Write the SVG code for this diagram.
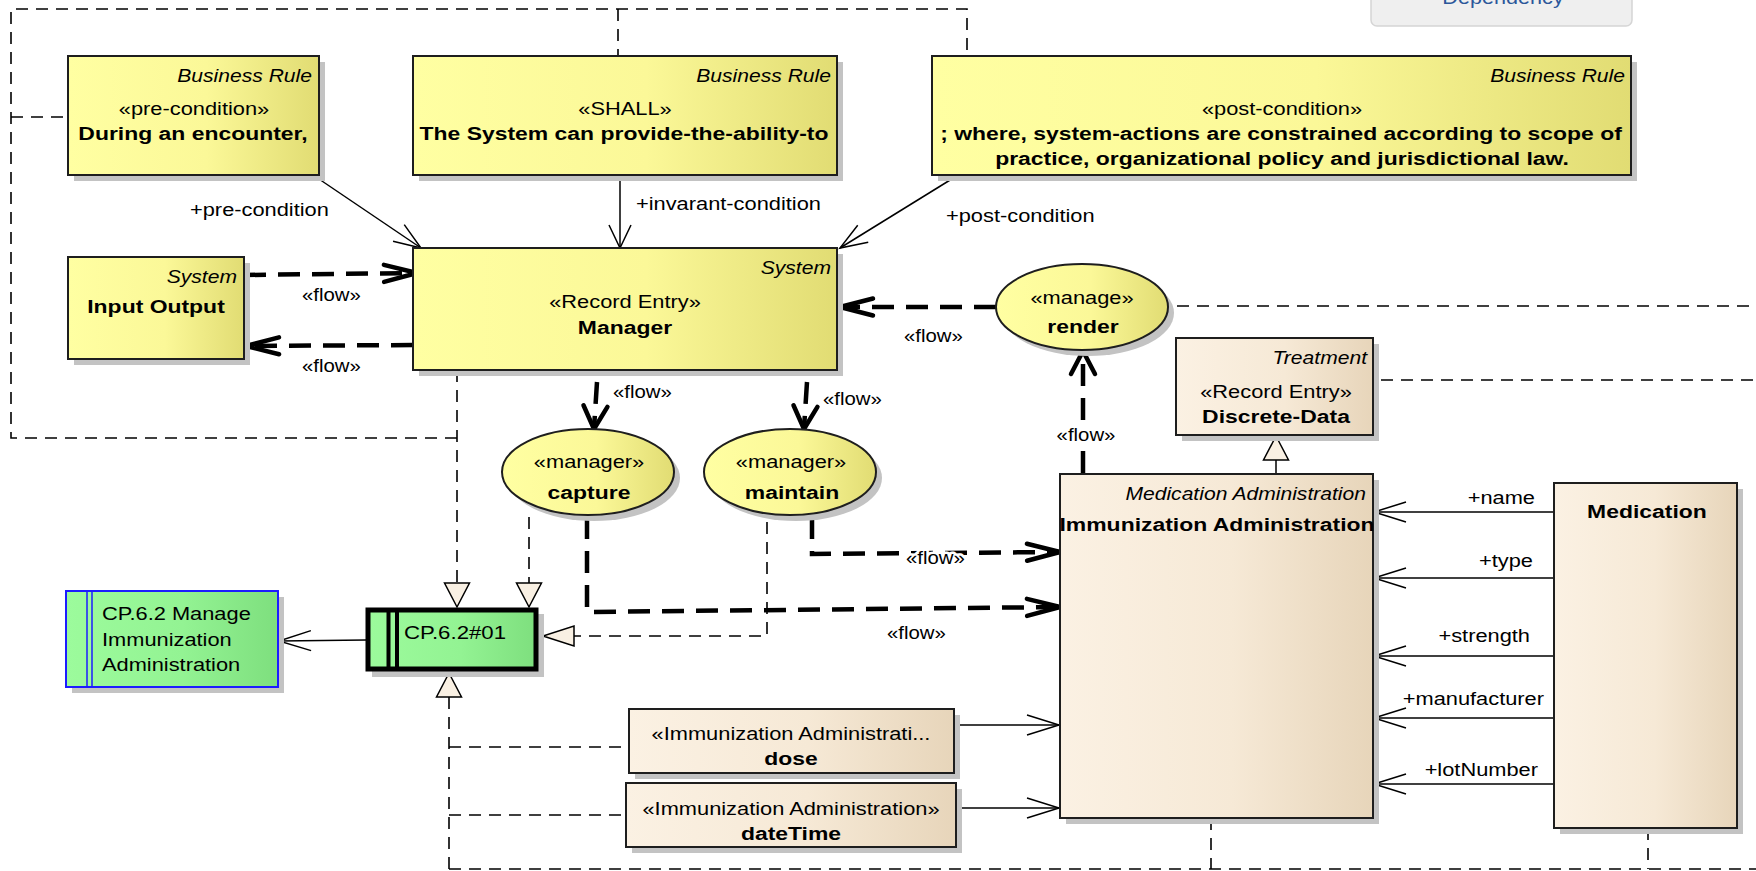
<svg xmlns="http://www.w3.org/2000/svg" width="1756" height="871" viewBox="0 0 1756 871">
  <defs>
    <linearGradient id="gYellow" x1="0" y1="0" x2="1" y2="0">
      <stop offset="0" stop-color="#ffffa2"/>
      <stop offset="0.55" stop-color="#fbf898"/>
      <stop offset="1" stop-color="#e1dc73"/>
    </linearGradient>
    <linearGradient id="gCream" x1="0" y1="0" x2="1" y2="0">
      <stop offset="0" stop-color="#fbf1e3"/>
      <stop offset="0.55" stop-color="#f6e9d6"/>
      <stop offset="1" stop-color="#e7d5ba"/>
    </linearGradient>
    <linearGradient id="gGreen" x1="0" y1="0" x2="1" y2="0">
      <stop offset="0" stop-color="#9cfb9c"/>
      <stop offset="0.55" stop-color="#93f393"/>
      <stop offset="1" stop-color="#7edf7e"/>
    </linearGradient>
    <!-- thick open arrowheads for «flow» connectors -->
    <marker id="flowH" markerUnits="userSpaceOnUse" orient="auto" refX="0" refY="0" viewBox="-40 -20 44 40" markerWidth="44" markerHeight="40" overflow="visible">
      <path d="M-33,-8.5 L0,0 L-33,8.5" fill="none" stroke="#000" stroke-width="4.5" stroke-linecap="round" stroke-linejoin="round"/>
    </marker>
    <marker id="flowV" markerUnits="userSpaceOnUse" orient="auto" refX="0" refY="0" viewBox="-40 -20 44 40" markerWidth="44" markerHeight="40" overflow="visible">
      <path d="M-23,-12 L0,0 L-23,12" fill="none" stroke="#000" stroke-width="4.5" stroke-linecap="round" stroke-linejoin="round"/>
    </marker>
    <!-- thin open arrowheads for associations -->
    <marker id="openH" markerUnits="userSpaceOnUse" orient="auto" refX="0" refY="0" viewBox="-40 -20 44 40" markerWidth="44" markerHeight="40" overflow="visible">
      <path d="M-32,-10 L0,0 L-32,10" fill="none" stroke="#000" stroke-width="1.5"/>
    </marker>
    <marker id="openV" markerUnits="userSpaceOnUse" orient="auto" refX="0" refY="0" viewBox="-40 -20 44 40" markerWidth="44" markerHeight="40" overflow="visible">
      <path d="M-23,-11 L0,0 L-23,11" fill="none" stroke="#000" stroke-width="1.5"/>
    </marker>
    <marker id="openD" markerUnits="userSpaceOnUse" orient="auto" refX="0" refY="0" viewBox="-40 -20 44 40" markerWidth="44" markerHeight="40" overflow="visible">
      <path d="M-27,-10 L0,0 L-27,10" fill="none" stroke="#000" stroke-width="1.5"/>
    </marker>
    <!-- hollow triangles for realization / generalization -->
    <marker id="triH" markerUnits="userSpaceOnUse" orient="auto" refX="0" refY="0" viewBox="-40 -20 44 40" markerWidth="44" markerHeight="40" overflow="visible">
      <path d="M0,0 L-31,-10 L-31,10 Z" fill="#f9f0e3" stroke="#000" stroke-width="1.5" stroke-linejoin="miter"/>
    </marker>
    <marker id="triV" markerUnits="userSpaceOnUse" orient="auto" refX="0" refY="0" viewBox="-40 -20 44 40" markerWidth="44" markerHeight="40" overflow="visible">
      <path d="M0,0 L-24,-12.5 L-24,12.5 Z" fill="#f9f0e3" stroke="#000" stroke-width="1.5" stroke-linejoin="miter"/>
    </marker>
  </defs>
  <style>
    .t { font-family: "Liberation Sans", Arial, sans-serif; font-size: 18.5px; fill: #000; }
    .b { font-weight: bold; }
    .i { font-style: italic; }
    .m { text-anchor: middle; }
    .e { text-anchor: end; }
    .halo { paint-order: stroke; stroke: #fff; stroke-width: 5px; stroke-linejoin: round; }
    .shadow { fill: #c3c3c3; }
    .box { stroke: #1e1e1e; stroke-width: 2; }
    .yel { fill: url(#gYellow); }
    .crm { fill: url(#gCream); }
    .grn { fill: url(#gGreen); }
    .dash { fill: none; stroke: #000; stroke-width: 1.6; stroke-dasharray: 12 8; }
    .flow { fill: none; stroke: #000; stroke-width: 4.5; stroke-dasharray: 22 12; }
    .assoc { fill: none; stroke: #000; stroke-width: 1.5; }
  </style>

  <rect width="1756" height="871" fill="#fff"/>

  <!-- toolbar button clipped at the top edge -->
  <g id="dependency-button">
    <rect x="1371" y="-12" width="261" height="38" rx="6" fill="#efefef" stroke="#d5d5d5" stroke-width="1.5"/>
    <text class="t m" transform="translate(1503 3.5) scale(1.17 1)" fill="#2b579a" style="fill:#2b579a">Dependency</text>
  </g>

  <!-- connectors -->
  <g id="connectors">
    <!-- realization paths into CP.6.2#01 -->
    <path class="dash" d="M457,438 H11 V9 H967 V56 M618,9 V56 M11,117 H68"/>
    <path class="dash" d="M457,370 V607" marker-end="url(#triV)"/>
    <path class="dash" d="M529,517 V607" marker-end="url(#triV)"/>
    <path class="dash" d="M767,522 V636 H543" marker-end="url(#triH)"/>
    <path class="dash" d="M449,869 V673" marker-end="url(#triV)"/>
    <path class="dash" d="M449,747 H629 M449,815 H626 M449,869 H1756 M1211,818 V869 M1648,828 V869"/>
    <path class="dash" d="M1177,306 H1756"/>
    <path class="dash" d="M1381,380 H1756"/>

    <!-- business rule associations -->
    <path class="assoc" d="M316,177 L421,248" marker-end="url(#openD)"/>
    <path class="assoc" d="M620,175 L620,248" marker-end="url(#openV)"/>
    <path class="assoc" d="M955,177 L840,248" marker-end="url(#openD)"/>
    <text class="t" transform="translate(190 216) scale(1.18 1)">+pre-condition</text>
    <text class="t" transform="translate(636 210) scale(1.18 1)">+invarant-condition</text>
    <text class="t" transform="translate(946 222) scale(1.18 1)">+post-condition</text>

    <!-- flows -->
    <path class="flow" d="M244,275 L417,273" marker-end="url(#flowH)"/>
    <text class="t" transform="translate(302 301) scale(1.1 1)">«flow»</text>
    <path class="flow" d="M413,345 L246,346" marker-end="url(#flowH)"/>
    <text class="t" transform="translate(302 372) scale(1.1 1)">«flow»</text>
    <path class="flow" d="M996,307 L840,307" marker-end="url(#flowH)"/>
    <text class="t" transform="translate(904 342) scale(1.1 1)">«flow»</text>
    <path class="flow" d="M597,382 L594,429" marker-end="url(#flowV)"/>
    <text class="t" transform="translate(613 398) scale(1.1 1)">«flow»</text>
    <path class="flow" d="M807,382 L804,429" marker-end="url(#flowV)"/>
    <text class="t" transform="translate(823 405) scale(1.1 1)">«flow»</text>
    <path class="flow" d="M1083,473 V446"/>
    <path class="flow" d="M1083,420 V351" marker-end="url(#flowV)"/>
    <text class="t m" transform="translate(1086 441) scale(1.1 1)">«flow»</text>
    <path class="flow" d="M812,517 V554 L1060,552" marker-end="url(#flowH)"/>
    <text class="t halo" transform="translate(906 564) scale(1.1 1)">«flow»</text>
    <path class="flow" d="M587,517 V612 L1060,607" marker-end="url(#flowH)"/>
    <text class="t" transform="translate(887 639) scale(1.1 1)">«flow»</text>

    <!-- generalization -->
    <path class="assoc" d="M1276,474 V436" marker-end="url(#triV)"/>

    <!-- Medication attributes -->
    <path class="assoc" d="M1554,512 H1374" marker-end="url(#openH)"/>
    <path class="assoc" d="M1554,578 H1374" marker-end="url(#openH)"/>
    <path class="assoc" d="M1554,656 H1374" marker-end="url(#openH)"/>
    <path class="assoc" d="M1554,718 H1374" marker-end="url(#openH)"/>
    <path class="assoc" d="M1554,784 H1374" marker-end="url(#openH)"/>
    <text class="t e" transform="translate(1535 504) scale(1.18 1)">+name</text>
    <text class="t e" transform="translate(1533 567) scale(1.18 1)">+type</text>
    <text class="t e" transform="translate(1530 642) scale(1.18 1)">+strength</text>
    <text class="t e" transform="translate(1544 705) scale(1.18 1)">+manufacturer</text>
    <text class="t e" transform="translate(1538 776) scale(1.18 1)">+lotNumber</text>

    <!-- attribute classes -->
    <path class="assoc" d="M954,725 H1059" marker-end="url(#openH)"/>
    <path class="assoc" d="M956,808 H1059" marker-end="url(#openH)"/>

    <!-- requirement trace -->
    <path class="assoc" d="M366,640 L279,641" marker-end="url(#openH)"/>
  </g>

  <!-- business rules -->
  <g id="br-precondition">
    <rect class="shadow" x="74" y="62" width="251" height="119"/>
    <rect class="box yel" x="68" y="56" width="251" height="119"/>
    <text class="t i e" transform="translate(312 82) scale(1.14 1)">Business Rule</text>
    <text class="t m" transform="translate(194 115) scale(1.18 1)">«pre-condition»</text>
    <text class="t b m" transform="translate(193 140) scale(1.24 1)">During an encounter,</text>
  </g>
  <g id="br-shall">
    <rect class="shadow" x="419" y="62" width="424" height="119"/>
    <rect class="box yel" x="413" y="56" width="424" height="119"/>
    <text class="t i e" transform="translate(831 82) scale(1.14 1)">Business Rule</text>
    <text class="t m" transform="translate(625 115) scale(1.18 1)">«SHALL»</text>
    <text class="t b m" transform="translate(624 140) scale(1.24 1)">The System can provide-the-ability-to</text>
  </g>
  <g id="br-postcondition">
    <rect class="shadow" x="938" y="62" width="699" height="119"/>
    <rect class="box yel" x="932" y="56" width="699" height="119"/>
    <text class="t i e" transform="translate(1625 82) scale(1.14 1)">Business Rule</text>
    <text class="t m" transform="translate(1282 115) scale(1.18 1)">«post-condition»</text>
    <text class="t b m" transform="translate(1281 140) scale(1.24 1)">; where, system-actions are constrained according to scope of</text>
    <text class="t b m" transform="translate(1282 165) scale(1.24 1)">practice, organizational policy and jurisdictional law.</text>
  </g>

  <!-- systems -->
  <g id="input-output">
    <rect class="shadow" x="74" y="263" width="176" height="102"/>
    <rect class="box yel" x="68" y="257" width="176" height="102"/>
    <text class="t i e" transform="translate(237 283) scale(1.14 1)">System</text>
    <text class="t b m" transform="translate(156 313) scale(1.24 1)">Input Output</text>
  </g>
  <g id="manager">
    <rect class="shadow" x="419" y="254" width="424" height="122"/>
    <rect class="box yel" x="413" y="248" width="424" height="122"/>
    <text class="t i e" transform="translate(831 274) scale(1.14 1)">System</text>
    <text class="t m" transform="translate(625 308) scale(1.18 1)">«Record Entry»</text>
    <text class="t b m" transform="translate(625 334) scale(1.24 1)">Manager</text>
  </g>

  <!-- manager operations -->
  <g id="render">
    <ellipse class="shadow" cx="1088" cy="313" rx="86" ry="43"/>
    <ellipse class="box yel" cx="1082" cy="307" rx="86" ry="43"/>
    <text class="t m" transform="translate(1082 304) scale(1.18 1)">«manage»</text>
    <text class="t b m" transform="translate(1083 333) scale(1.24 1)">render</text>
  </g>
  <g id="capture">
    <ellipse class="shadow" cx="594" cy="478" rx="86" ry="43"/>
    <ellipse class="box yel" cx="588" cy="472" rx="86" ry="43"/>
    <text class="t m" transform="translate(589 468) scale(1.18 1)">«manager»</text>
    <text class="t b m" transform="translate(589 499) scale(1.24 1)">capture</text>
  </g>
  <g id="maintain">
    <ellipse class="shadow" cx="796" cy="478" rx="86" ry="43"/>
    <ellipse class="box yel" cx="790" cy="472" rx="86" ry="43"/>
    <text class="t m" transform="translate(791 468) scale(1.18 1)">«manager»</text>
    <text class="t b m" transform="translate(792 499) scale(1.24 1)">maintain</text>
  </g>

  <!-- record entries and classes -->
  <g id="discrete-data">
    <rect class="shadow" x="1182" y="344" width="197" height="97"/>
    <rect class="box crm" x="1176" y="338" width="197" height="97"/>
    <text class="t i e" transform="translate(1367 364) scale(1.14 1)">Treatment</text>
    <text class="t m" transform="translate(1276 398) scale(1.18 1)">«Record Entry»</text>
    <text class="t b m" transform="translate(1276 423) scale(1.24 1)">Discrete-Data</text>
  </g>
  <g id="immunization-administration">
    <rect class="shadow" x="1066" y="480" width="313" height="344"/>
    <rect class="box crm" x="1060" y="474" width="313" height="344"/>
    <text class="t i e" transform="translate(1366 500) scale(1.14 1)">Medication Administration</text>
    <text class="t b m" transform="translate(1217 531) scale(1.24 1)">Immunization Administration</text>
  </g>
  <g id="medication">
    <rect class="shadow" x="1560" y="489" width="183" height="345"/>
    <rect class="box crm" x="1554" y="483" width="183" height="345"/>
    <text class="t b m" transform="translate(1647 518) scale(1.24 1)">Medication</text>
  </g>
  <g id="dose">
    <rect class="shadow" x="635" y="715" width="325" height="64"/>
    <rect class="box crm" x="629" y="709" width="325" height="64"/>
    <text class="t m" transform="translate(791 740) scale(1.18 1)">«Immunization Administrati...</text>
    <text class="t b m" transform="translate(791 765) scale(1.24 1)">dose</text>
  </g>
  <g id="datetime">
    <rect class="shadow" x="632" y="789" width="330" height="64"/>
    <rect class="box crm" x="626" y="783" width="330" height="64"/>
    <text class="t m" transform="translate(791 815) scale(1.18 1)">«Immunization Administration»</text>
    <text class="t b m" transform="translate(791 840) scale(1.24 1)">dateTime</text>
  </g>

  <!-- requirements -->
  <g id="cp-6-2">
    <rect class="shadow" x="72" y="597" width="212" height="96"/>
    <rect class="grn" x="66" y="591" width="212" height="96" stroke="#1c1cff" stroke-width="2"/>
    <path d="M87,591 V687 M92,591 V687" stroke="#1c1cff" stroke-width="1.5" fill="none"/>
    <text class="t" transform="translate(102 620) scale(1.18 1)">CP.6.2 Manage</text>
    <text class="t" transform="translate(102 646) scale(1.18 1)">Immunization</text>
    <text class="t" transform="translate(102 671) scale(1.18 1)">Administration</text>
  </g>
  <g id="cp-6-2-01">
    <rect class="shadow" x="372" y="614" width="172" height="63"/>
    <rect class="grn" x="368" y="610" width="168" height="59" stroke="#000" stroke-width="5"/>
    <path d="M388.5,610 V669 M397,610 V669" stroke="#000" stroke-width="4" fill="none"/>
    <text class="t" transform="translate(404 639) scale(1.2 1)">CP.6.2#01</text>
  </g>
</svg>
